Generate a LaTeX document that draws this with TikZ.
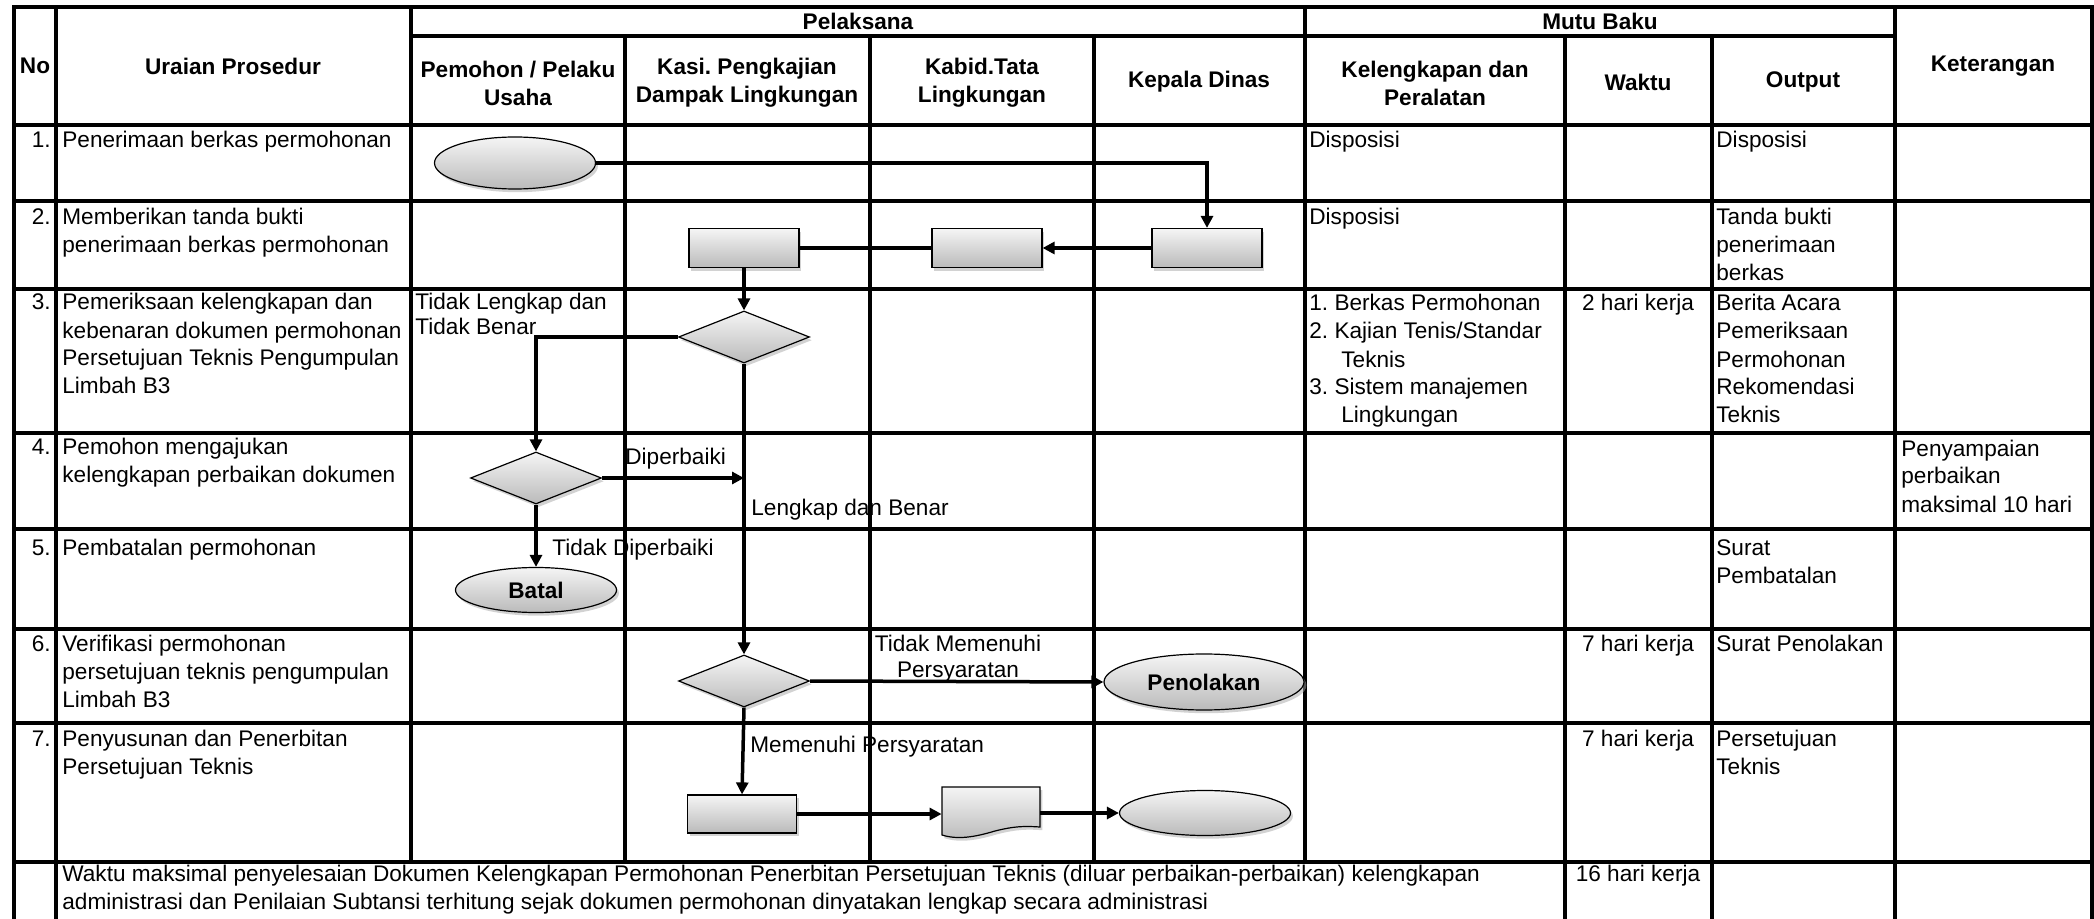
\documentclass[tikz,border=0pt]{standalone}
\usepackage{fontspec}
\setmainfont{Liberation Sans}
\usetikzlibrary{arrows.meta,shapes.geometric,shadows,calc}
\frenchspacing
\newcommand{\cellfont}{\fontsize{11.3}{14}\selectfont}
\newcommand{\headfont}{\fontsize{11.3}{14}\selectfont\bfseries}
\begin{document}
\begin{tikzpicture}[x=0.5pt,y=-0.5pt,
  grid/.style={line width=1.65pt, line cap=rect},
  conn/.style={line width=1.75pt, -{Triangle[length=6pt,width=6pt]}},
  link/.style={line width=1.75pt},
  cell/.style={anchor=north west, inner sep=0pt, align=left, font=\cellfont},
  num/.style={anchor=north east, inner sep=0pt, align=right, font=\cellfont},
  ctext/.style={anchor=north, inner sep=0pt, align=center, font=\cellfont},
  head/.style={anchor=center, inner sep=0pt, align=center, font=\headfont},
  fillshade/.style={draw=black, line width=0.6pt, top color=white!96!black, bottom color=black!27,
    drop shadow={shadow xshift=1.2pt, shadow yshift=-1.6pt, fill=black!35, opacity=0.5}},
  term/.style={fillshade, ellipse, inner sep=0pt, font=\headfont},
  proc/.style={fillshade, rectangle, inner sep=0pt, minimum width=55pt, minimum height=19.5pt},
  decision/.style={fillshade, diamond, inner sep=0pt, minimum width=65.5pt, minimum height=26pt},
]
\useasboundingbox (0,0) rectangle (2094,919);

% ---------- header texts ----------
\node[head] (hno) at (35,66) {No};
\node[head] (hur) at (233,66) {Uraian Prosedur};
\node[head] (hpel) at (858,21) {Pelaksana};
\node[head] (hmb) at (1600,21) {Mutu Baku};
\node[head] (hpem) at (518,83) {Pemohon / Pelaku\\Usaha};
\node[head] (hkasi) at (747,83) {Kasi. Pengkajian\\Dampak Lingkungan};
\node[head] (hkabid) at (982,83) {Kabid.Tata\\Lingkungan};
\node[head] (hkadis) at (1199,82) {Kepala Dinas};
\node[head] (hkel) at (1435,83) {Kelengkapan dan\\Peralatan};
\node[head] (hwak) at (1638,82) {Waktu};
\node[head] (hout) at (1803,82) {Output};
\node[head] (hket) at (1993,66) {Keterangan};

% ---------- row numbers ----------
\node[num] (n1) at (51,128) {\strut 1.};
\node[num] (n2) at (51,205) {\strut 2.};
\node[num] (n3) at (51,290) {\strut 3.};
\node[num] (n4) at (51,435) {\strut 4.};
\node[num] (n5) at (51,535) {\strut 5.};
\node[num] (n6) at (51,631) {\strut 6.};
\node[num] (n7) at (51,726) {\strut 7.};

% ---------- uraian ----------
\node[cell] (u1) at (62,128) {\strut Penerimaan berkas permohonan};
\node[cell] (u2) at (62,205) {\strut Memberikan tanda bukti\\penerimaan berkas permohonan};
\node[cell] (u3) at (62,290) {\strut Pemeriksaan kelengkapan dan\\kebenaran dokumen permohonan\\Persetujuan Teknis Pengumpulan\\Limbah B3};
\node[cell] (u4) at (62,435) {\strut Pemohon mengajukan\\kelengkapan perbaikan dokumen};
\node[cell] (u5) at (62,535) {\strut Pembatalan permohonan};
\node[cell] (u6) at (62,631) {\strut Verifikasi permohonan\\persetujuan teknis pengumpulan\\Limbah B3};
\node[cell] (u7) at (62,726) {\strut Penyusunan dan Penerbitan\\Persetujuan Teknis};
\node[cell] (u8) at (62,861) {\strut Waktu maksimal penyelesaian Dokumen Kelengkapan Permohonan Penerbitan Persetujuan Teknis (diluar perbaikan-perbaikan) kelengkapan\\administrasi dan Penilaian Subtansi terhitung sejak dokumen permohonan dinyatakan lengkap secara administrasi};

% ---------- kelengkapan ----------
\node[cell] (k1) at (1309,128) {\strut Disposisi};
\node[cell] (k2) at (1309,205) {\strut Disposisi};
\node[cell] (k3) at (1309,291) {\strut 1. Berkas Permohonan\\2. Kajian Tenis/Standar\\\hspace*{16pt}Teknis\\3. Sistem manajemen\\\hspace*{16pt}Lingkungan};

% ---------- waktu ----------
\node[ctext] (w3) at (1638,291) {\strut 2 hari kerja};
\node[ctext] (w6) at (1638,631) {\strut 7 hari kerja};
\node[ctext] (w7) at (1638,726) {\strut 7 hari kerja};
\node[ctext] (w8) at (1638,861) {\strut 16 hari kerja};

% ---------- output ----------
\node[cell] (o1) at (1716,128) {\strut Disposisi};
\node[cell] (o2) at (1716,205) {\strut Tanda bukti\\penerimaan\\berkas};
\node[cell] (o3) at (1716,291) {\strut Berita Acara\\Pemeriksaan\\Permohonan\\Rekomendasi\\Teknis};
\node[cell] (o5) at (1716,535) {\strut Surat\\Pembatalan};
\node[cell] (o6) at (1716,631) {\strut Surat Penolakan};
\node[cell] (o7) at (1716,726) {\strut Persetujuan\\Teknis};

% ---------- keterangan ----------
\node[cell] (ket4) at (1901,436) {\strut Penyampaian\\perbaikan\\maksimal 10 hari};

% ---------- flow labels ----------
\node[cell] (lbl1) at (415,290) {\strut Tidak Lengkap dan\\[-1.5pt]Tidak Benar};
\node[cell] (lbl2) at (625,445) {\strut Diperbaiki};
\node[cell] (lbl3) at (751,496) {\strut Lengkap dan Benar};
\node[cell] (lbl4) at (552,535) {\strut Tidak Diperbaiki};
\node[ctext] (lbl5) at (958,631) {\strut Tidak Memenuhi\\[-1pt]Persyaratan};
\node[cell] (lbl6) at (750,732) {\strut Memenuhi Persyaratan};

% ---------- grid ----------
\draw[grid] (14,7) -- (2092,7);
\draw[grid] (411,36) -- (1895,36);
\foreach \yy in {125,201,289,433,529,629,723,862}
  \draw[grid] (14,\yy) -- (2092,\yy);
\draw[grid] (14,7) -- (14,919);
\draw[grid] (56,7) -- (56,919);
\draw[grid] (411,7) -- (411,862);
\foreach \xx in {625,870,1094}
  \draw[grid] (\xx,36) -- (\xx,862);
\draw[grid] (1305,7) -- (1305,862);
\draw[grid] (1565,36) -- (1565,919);
\draw[grid] (1712,36) -- (1712,919);
\draw[grid] (1895,7) -- (1895,919);
\draw[grid] (2092,7) -- (2092,919);

% ---------- shapes ----------
\node[term, minimum width=80.5pt, minimum height=26pt] (start) at (515,163) {};
\node[proc] (kasi2) at (744,248) {};
\node[proc] (kabid2) at (987,248) {};
\node[proc] (kadis2) at (1207,248) {};
\node[decision] (d3) at (744,337) {};
\node[decision] (d4) at (536,478) {};
\node[term, minimum width=80.5pt, minimum height=22.5pt] (batal) at (536,590) {Batal};
\node[decision] (d6) at (744,681) {};
\node[term, minimum width=100pt, minimum height=28pt] (tolak) at (1204,682) {Penolakan};
\node[proc, minimum width=54.5pt, minimum height=19pt] (box7) at (742,814) {};
\node[inner sep=0pt, minimum width=49pt, minimum height=21pt] (doc) at (991,808) {};
\path[fillshade] (942,787) -- (1040,787) -- (1040,827)
  .. controls (1025,826) and (1015,826) .. (995,831)
  .. controls (975,837) and (958,840) .. (942,835) -- cycle;
\node[term, minimum width=85.5pt, minimum height=22.5pt] (finish) at (1205,813) {};

% ---------- connectors ----------
\draw[conn] (start.east) -| (kadis2.north);
\draw[conn] (kadis2.west) -- (kabid2.east);
\draw[link] (kabid2.west) -- (kasi2.east);
\draw[conn] (kasi2.south) -- (d3.north);
\draw[conn] (d3.west) -| (d4.north);
\draw[conn] (d4.east) -- (d4.east -| d3.south);
\draw[conn] (d3.south) -- (d6.north);
\draw[conn] (d4.south) -- (batal.north);
\draw[conn] (d6.east) -- (tolak.west);
\draw[conn] (d6.south) -- (box7.north);
\draw[conn] (box7.east) -- (box7.east -| doc.west);
\draw[conn] (doc.east |- finish.west) -- (finish.west);
\end{tikzpicture}
\end{document}
